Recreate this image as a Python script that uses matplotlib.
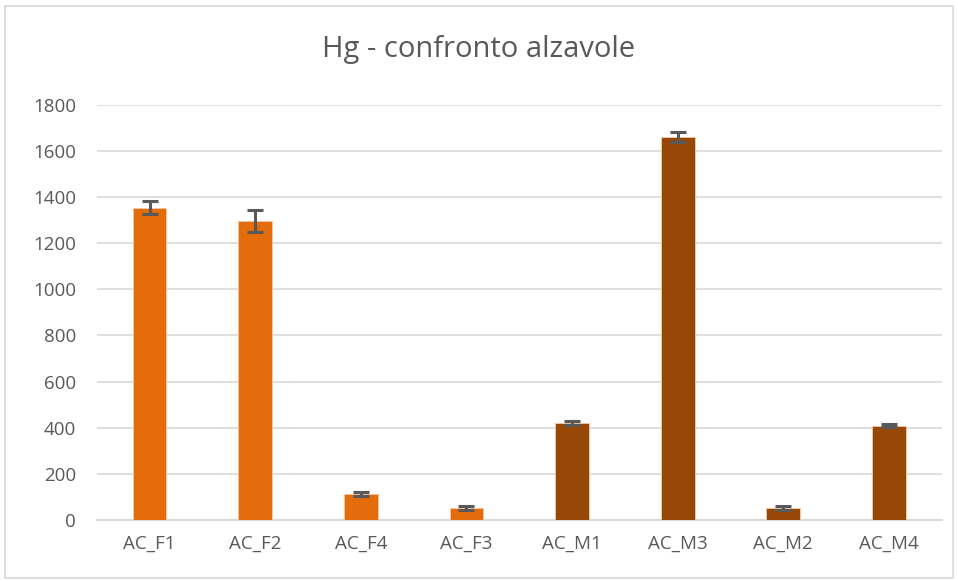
import matplotlib

matplotlib.use("Agg")
import matplotlib.pyplot as plt
from matplotlib.patches import Rectangle

# values
samples = ["AC_F1", "AC_F2", "AC_F4", "AC_F3", "AC_M1", "AC_M3", "AC_M2", "AC_M4"]
hg_mean = [1354, 1294, 113, 52, 419, 1661, 52, 409]
hg_err = [28, 48, 8, 10, 8, 22, 8, 8]
group = ["F", "F", "F", "F", "M", "M", "M", "M"]

COLORS = {"F": "#E46C0A", "M": "#974706"}
plt.rcParams["font.family"] = ["Open Sans", "DejaVu Sans"]

fig = plt.figure(figsize=(9.58, 5.81), dpi=100)
ax = fig.add_axes([0.101, 0.105, 0.882, 0.715])

x = range(len(samples))
ax.bar(x, hg_mean, width=0.32, color=[COLORS[g] for g in group],
       edgecolor="#F7C9A6", linewidth=0.6, zorder=3)
ax.errorbar(x, hg_mean, yerr=hg_err, fmt="none", ecolor="#595959",
            elinewidth=2.2, capsize=5.5, capthick=2.2, zorder=4)

ax.set_xlim(-0.5, len(samples) - 0.5)
ax.set_ylim(0, 1800)
ax.set_yticks(range(0, 1801, 200))
ax.set_xticks(list(x))
ax.set_xticklabels(samples)
ax.tick_params(axis="both", length=0, labelsize=13.5, labelcolor="#595959")
ax.tick_params(axis="x", pad=11)
ax.tick_params(axis="y", pad=15)
ax.grid(axis="y", color="#D9D9D9", linewidth=1.2, zorder=0)
for side in ("top", "right", "left"):
    ax.spines[side].set_visible(False)
ax.spines["bottom"].set_color("#D9D9D9")
ax.spines["bottom"].set_linewidth(1.5)

fig.text(0.5, 0.915, "Hg - confronto alzavole", ha="center", va="center",
         fontsize=21, color="#595959")

# thin grey chart border
fig.patches.append(Rectangle((0.005, 0.005), 0.99, 0.985, transform=fig.transFigure,
                             fill=False, edgecolor="#D9D9D9", linewidth=1.2))

fig.savefig("out.png", dpi=100)
